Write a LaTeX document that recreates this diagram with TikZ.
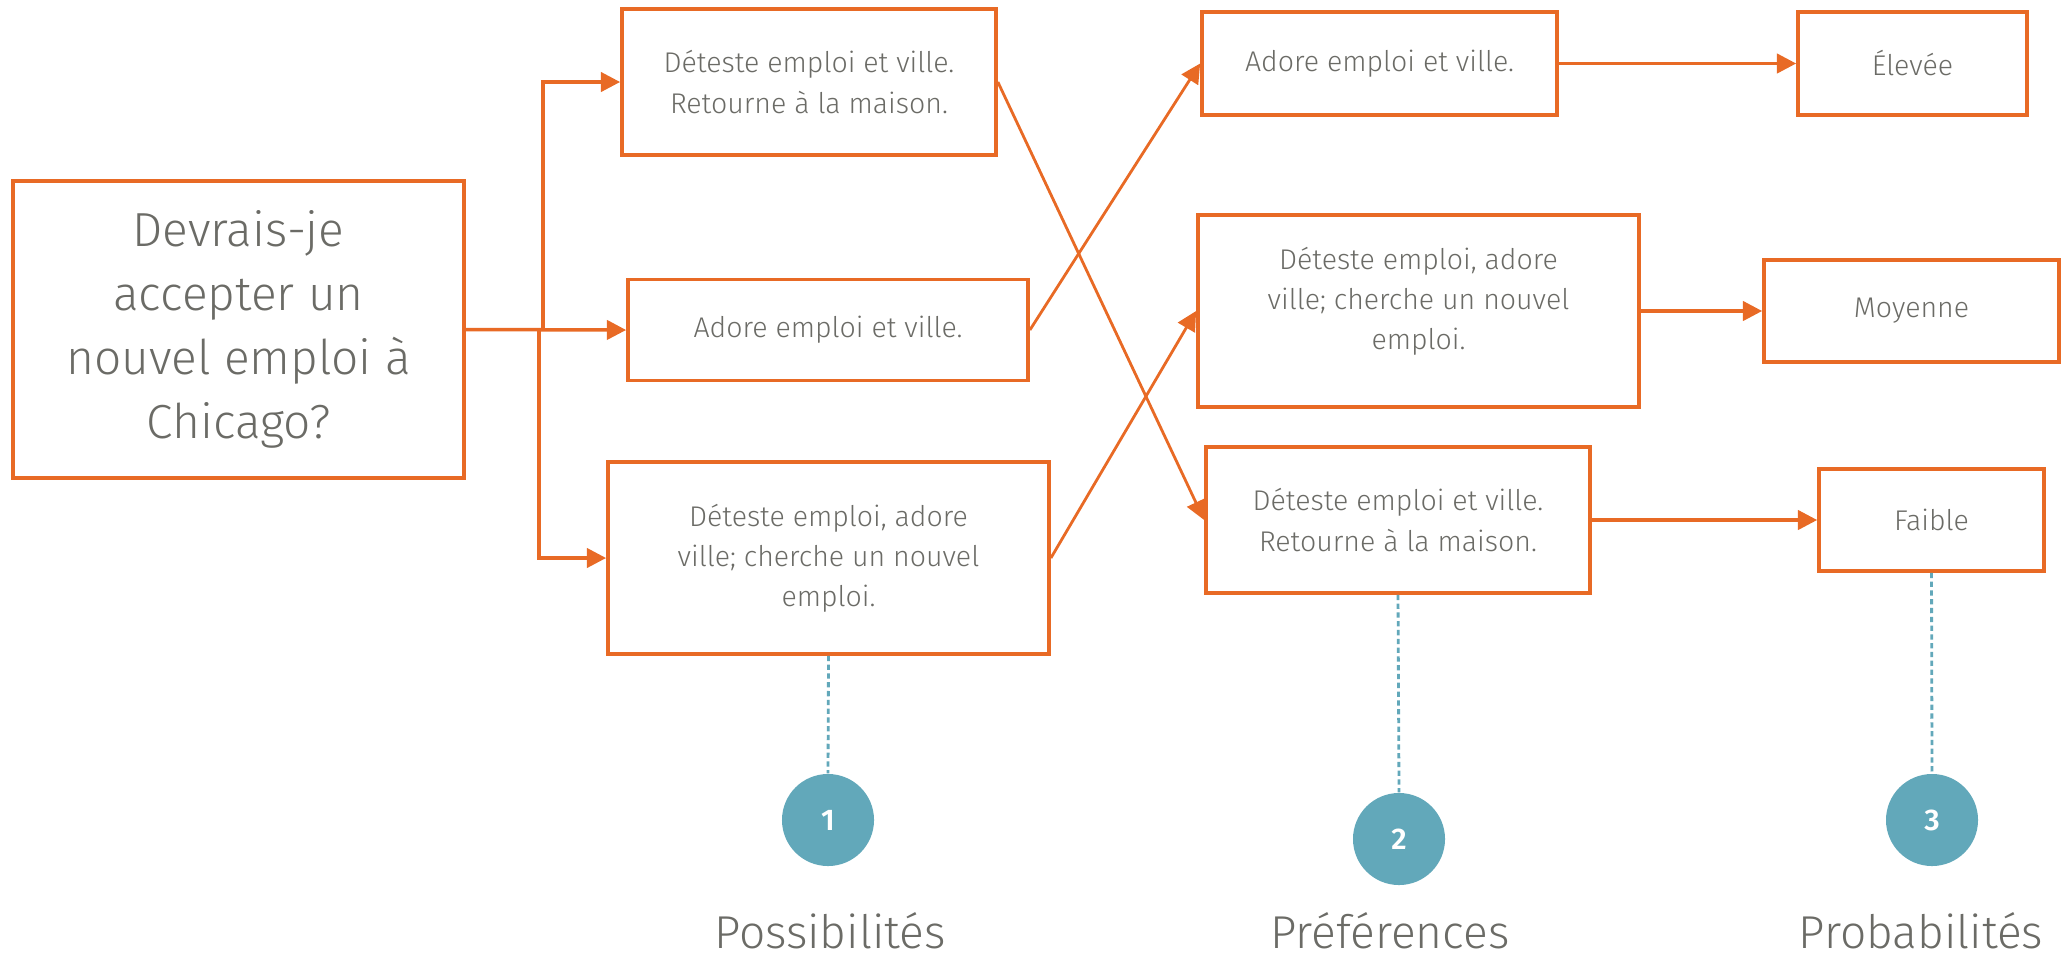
\documentclass[tikz,border=0pt]{standalone}
\usepackage{fontspec}
\setmainfont{Fira Sans}[UprightFont=* Light,BoldFont=* SemiBold]
\usepackage{tikz}
\usetikzlibrary{positioning,arrows.meta}
\definecolor{orangeline}{HTML}{E86A25}
\definecolor{tealdot}{HTML}{62A8BA}
\definecolor{greytext}{HTML}{6B6B66}

\begin{document}
\begin{tikzpicture}[x=0.01cm,y=-0.01cm,>={Triangle[length=5.5pt,width=5.5pt]}]
        \tikzstyle{choice}=[rectangle,draw=orangeline,line width=1pt,text=greytext,align=center,inner sep=0pt,font=\fontsize{8.1}{11.4}\selectfont]
        \tikzstyle{link}=[draw=orangeline,line width=1pt]
        \tikzstyle{cross}=[draw=orangeline,line width=0.8pt]
        \tikzstyle{step_num}=[circle,fill=tealdot,text=white,minimum size=0.92cm,inner sep=0pt,font=\fontsize{8.5}{8.5}\selectfont\bfseries]
        \tikzstyle{step_name}=[text=greytext,anchor=base,font=\fontsize{13.1}{15}\selectfont]
        \tikzstyle{guide}=[draw=tealdot,line width=0.8pt,dash pattern=on 1.5pt off 1pt]
        \useasboundingbox (0,0) rectangle (2061,963);
        \node[choice,minimum width=4.51cm,minimum height=2.97cm,font=\fontsize{13.6}{18.2}\selectfont] (question) at (238.5,329.5) {Devrais-je\\accepter un\\nouvel emploi à\\Chicago?};
        \node[choice,minimum width=3.74cm,minimum height=1.46cm] (opt_1_1) at (809,82) {Déteste emploi et ville.\\Retourne à la maison.};
        \node[choice,minimum width=4.00cm,minimum height=1.01cm] (opt_1_2) at (828,330) {Adore emploi et ville.};
        \node[choice,minimum width=4.41cm,minimum height=1.92cm] (opt_1_3) at (828.5,558) {Déteste emploi, adore\\ville; cherche un nouvel\\emploi.};
        \node[choice,minimum width=3.55cm,minimum height=1.03cm] (opt_2_1) at (1379.5,63.5) {Adore emploi et ville.};
        \node[choice,minimum width=4.41cm,minimum height=1.92cm,text depth=0.25cm] (opt_2_2) at (1418.5,311) {Déteste emploi, adore\\ville; cherche un nouvel\\emploi.};
        \node[choice,minimum width=3.84cm,minimum height=1.46cm] (opt_2_3) at (1398,520) {Déteste emploi et ville.\\Retourne à la maison.};
        \node[choice,minimum width=2.29cm,minimum height=1.03cm] (opt_3_1) at (1912.5,63.5) {Élevée};
        \node[choice,minimum width=2.95cm,minimum height=1.02cm] (opt_3_2) at (1911.5,311) {Moyenne};
        \node[choice,minimum width=2.25cm,minimum height=1.02cm] (opt_3_3) at (1931.5,520) {Faible};
        \draw[link,->] (question.east) -- ++(77,0) |- (opt_1_1.west);
        \draw[link,->] (question.east) -- (opt_1_2.west);
        \draw[link,->] (question.east) -- ++(73,0) |- (opt_1_3.west);
        \draw[cross,->] (opt_1_1.east) -- (opt_2_3.west);
        \draw[cross,->] (opt_1_2.east) -- (opt_2_1.west);
        \draw[cross,->] (opt_1_3.east) -- (opt_2_2.west);
        \draw[link,->] (opt_2_1.east) -- (opt_3_1.west);
        \draw[link,->] (opt_2_2.east) -- (opt_3_2.west);
        \draw[link,->] (opt_2_3.east) -- (opt_3_3.west);
        \node[step_num] (step_1) at (828,820) {1};
        \node[step_num] (step_2) at (1399,839) {2};
        \node[step_num] (step_3) at (1932,820) {3};
        \draw[guide] (opt_1_3.south) -- (step_1.north);
        \draw[guide] (opt_2_3.south) -- (step_2.north);
        \draw[guide] (opt_3_3.south) -- (step_3.north);
        \node[step_name] (name_1) at (830,948) {Possibilités};
        \node[step_name] (name_2) at (1390,948) {Préférences};
        \node[step_name] (name_3) at (1921,948) {Probabilités};
    \end{tikzpicture}
\end{document}
